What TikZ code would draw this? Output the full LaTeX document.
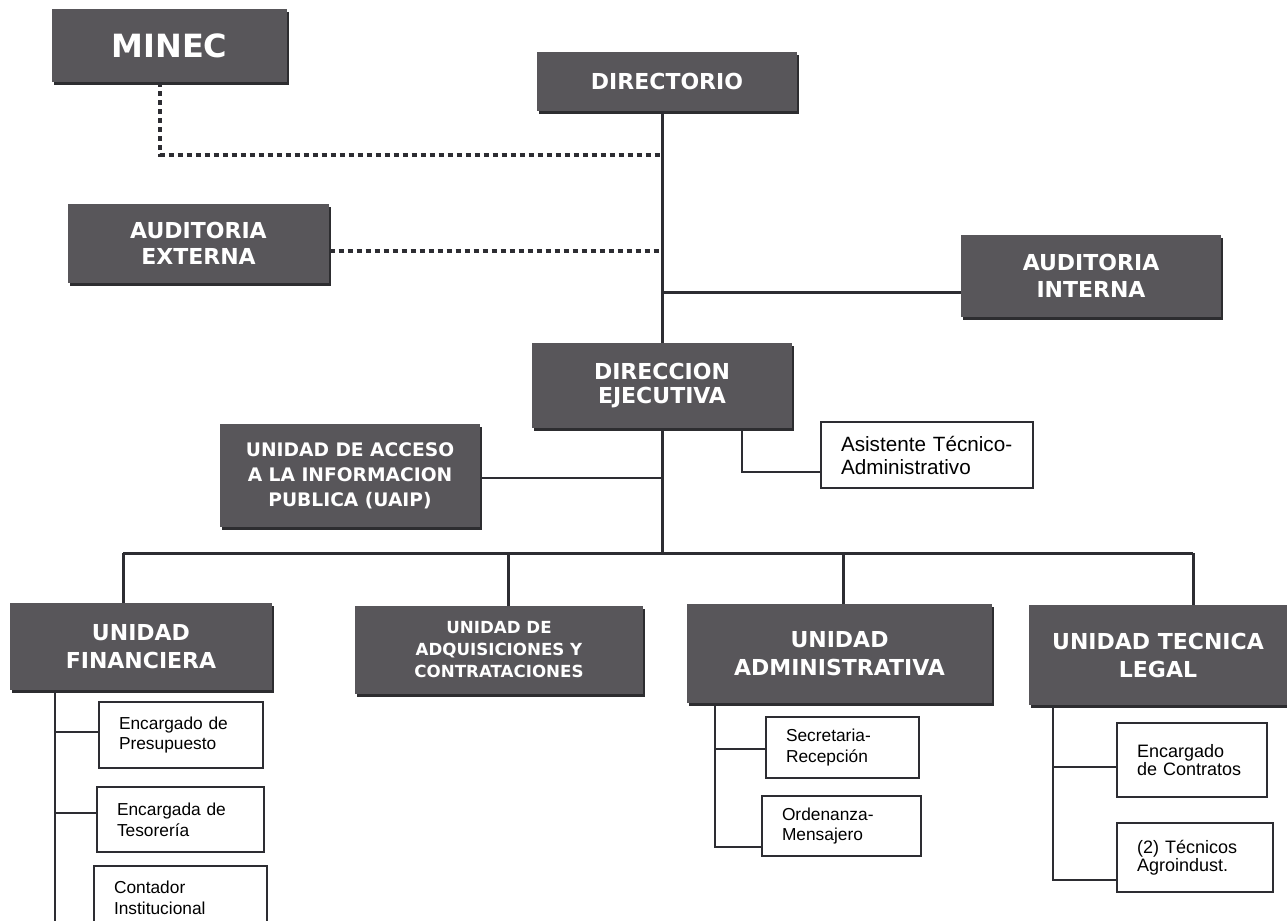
\documentclass[tikz,border=0pt]{standalone}
\usepackage{fontspec}
\newfontfamily\verdfont{DejaVu Sans}
\newfontfamily\arialfont{Liberation Sans}
\usetikzlibrary{shadows}

\definecolor{boxgray}{RGB}{88,86,90}
\definecolor{boxshade}{RGB}{45,45,48}
\definecolor{linkgray}{RGB}{45,45,50}

\tikzset{every picture/.style={line width=0.75pt}}
\tikzset{
  unidad/.style={fill=boxgray, text=white, align=center, inner sep=0pt,
    font=\verdfont\bfseries\fontsize{16.5}{20}\selectfont,
    drop shadow={shadow xshift=1.5pt, shadow yshift=-2.25pt, fill=boxshade, opacity=1}},
  puesto/.style 2 args={draw=linkgray, fill=white, line width=1.1pt, align=left,
    inner xsep=15pt, inner ysep=0pt, text width=#1, minimum height=#2,
    font=\arialfont\fontsize{13}{15.5}\selectfont},
  enlace/.style={draw=linkgray, line width=2.25pt},
  ramal/.style={draw=linkgray, line width=1.5pt},
  punteado/.style={draw=linkgray, line width=3.5pt, dash pattern=on 3.75pt off 3pt},
}

\begin{document}
\begin{tikzpicture}[x=0.75pt,y=0.75pt,yscale=-1,xscale=1]
        \path[use as bounding box, fill=white] (0,0) rectangle (1287,920);

        % Text Node
        \node [unidad, minimum width=176.25pt, minimum height=54.75pt, font=\verdfont\bfseries\fontsize{24}{28}\selectfont] (minec) at (169.5,45.5) {MINEC};
        % Text Node
        \node [unidad, minimum width=195pt, minimum height=44.25pt] (directorio) at (667,81.5) {DIRECTORIO};
        % Text Node
        \node [unidad, minimum width=195.75pt, minimum height=59.25pt] (audext) at (198.5,243.5) {AUDITORIA\\EXTERNA};
        % Text Node
        \node [unidad, minimum width=195pt, minimum height=61.5pt] (audint) at (1091,276) {AUDITORIA\\INTERNA};
        % Text Node
        \node [unidad, minimum width=195pt, minimum height=63.75pt, font=\verdfont\bfseries\fontsize{16.5}{17.5}\selectfont] (direjec) at (662,385.5) {DIRECCION\\EJECUTIVA};
        % Text Node
        \node [unidad, minimum width=195pt, minimum height=77.25pt, font=\verdfont\bfseries\fontsize{14}{18.75}\selectfont] (uaip) at (350,475.5) {UNIDAD DE ACCESO\\A LA INFORMACION\\PUBLICA (UAIP)};
        % Text Node
        \node [unidad, minimum width=196.5pt, minimum height=65.25pt, font=\verdfont\bfseries\fontsize{16.5}{21}\selectfont] (ufin) at (141,646.5) {UNIDAD\\FINANCIERA};
        % Text Node
        \node [unidad, minimum width=216pt, minimum height=66pt, font=\verdfont\bfseries\fontsize{12.5}{16.5}\selectfont] (uadq) at (499,650) {UNIDAD DE\\ADQUISICIONES Y\\CONTRATACIONES};
        % Text Node
        \node [unidad, minimum width=228.75pt, minimum height=74.25pt, font=\verdfont\bfseries\fontsize{16.5}{21}\selectfont] (uadm) at (839.5,653.5) {UNIDAD\\ADMINISTRATIVA};
        % Text Node
        \node [unidad, minimum width=193.5pt, minimum height=75pt, font=\verdfont\bfseries\fontsize{16.5}{21}\selectfont] (utec) at (1158,655) {UNIDAD TECNICA\\LEGAL};

        % Text Node
        \node [puesto={129pt}{49.5pt}, font=\arialfont\fontsize{15.5}{17.25}\selectfont] (asist) at (927,455) {Asistente Técnico-\\Administrativo};
        % Text Node
        \node [puesto={93pt}{49.5pt}] (presup) at (181,735) {Encargado de\\Presupuesto};
        % Text Node
        \node [puesto={95.25pt}{48.75pt}] (tesor) at (180.5,819.5) {Encargada de\\Tesorería};
        % Text Node
        \node [puesto={99.75pt}{48pt}] (contad) at (180.5,898) {Contador\\Institucional};
        % Text Node
        \node [puesto={84.75pt}{45.75pt}] (secret) at (842.5,747.5) {Secretaria-\\Recepción};
        % Text Node
        \node [puesto={89.25pt}{45pt}] (orden) at (841.5,826) {Ordenanza-\\Mensajero};
        % Text Node
        \node [puesto={82.5pt}{55.5pt}, font=\arialfont\fontsize{13.5}{13.5}\selectfont] (contra) at (1192,760) {Encargado\\de Contratos};
        % Text Node
        \node [puesto={87pt}{51.75pt}, font=\arialfont\fontsize{13.5}{13.5}\selectfont] (tecnic) at (1195,857.5) {(2) Técnicos\\Agroindust.};

        %Straight Lines
        \coordinate (jm) at (662,155);
        \coordinate (je) at (662,251);
        \coordinate (ji) at (662,292);
        \coordinate (jp) at (662,478);
        \coordinate (jt) at (742,472);
        \coordinate (bus) at (662,553);
        \coordinate (b1) at (123,553);
        \coordinate (b2) at (508,553);
        \coordinate (b3) at (843,553);
        \coordinate (b4) at (1193,553);
        \draw [enlace] (direjec.north |- directorio.south) -- (direjec.north);
        \draw [enlace] (direjec.south) -- (bus);
        \draw [punteado] ([xshift=-7.1pt]minec.south) |- (jm);
        \draw [punteado] (audext.east |- je) -- (je);
        \draw [enlace] (ji) -- (ji -| audint.west);
        \draw [ramal] (jp) -- (jp -| uaip.east);
        \draw [ramal] (jt |- direjec.south) |- (asist.west |- jt);

        %Straight Lines
        \draw [enlace] (b1) -- (b4);
        \draw [enlace] (b1) -- (b1 |- ufin.north);
        \draw [enlace] (b2) -- (b2 |- uadq.north);
        \draw [enlace] (b3) -- (b3 |- uadm.north);
        \draw [enlace] (b4) -- (b4 |- utec.north);

        %Straight Lines
        \coordinate (f0) at (55,930);
        \coordinate (f1) at (55,732);
        \coordinate (f2) at (55,813);
        \draw [ramal] (f0 |- ufin.south) -- (f0);
        \draw [ramal] (f1) -- (f1 -| presup.west);
        \draw [ramal] (f2) -- (f2 -| tesor.west);

        \coordinate (a0) at (715,847);
        \coordinate (a1) at (715,749);
        \draw [ramal] (a0 |- uadm.south) -- (a0) -- (a0 -| orden.west);
        \draw [ramal] (a1) -- (a1 -| secret.west);

        \coordinate (t0) at (1053,880);
        \coordinate (t1) at (1053,767);
        \draw [ramal] (t0 |- utec.south) -- (t0) -- (t0 -| tecnic.west);
        \draw [ramal] (t1) -- (t1 -| contra.west);

\end{tikzpicture}
\end{document}
